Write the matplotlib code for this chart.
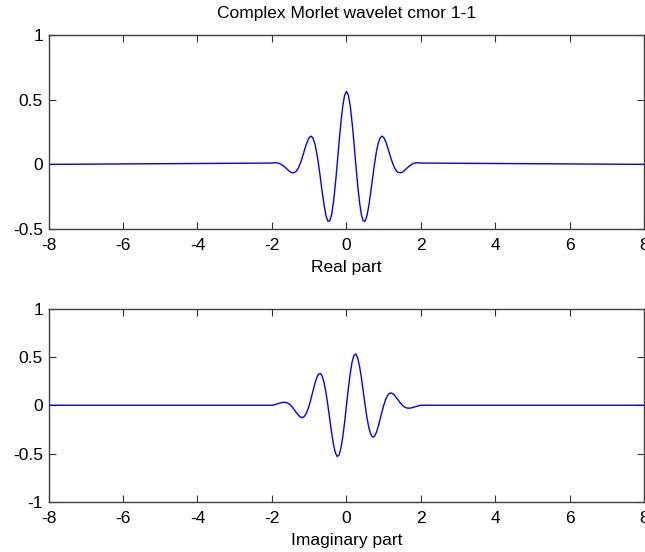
import matplotlib
matplotlib.use("Agg")
import matplotlib.pyplot as plt

# x positions (spacing 0.05 in the central part)
x_vals = [-8.0,
          -2.00, -1.95, -1.90, -1.85, -1.80, -1.75, -1.70, -1.65, -1.60, -1.55,
          -1.50, -1.45, -1.40, -1.35, -1.30, -1.25, -1.20, -1.15, -1.10, -1.05,
          -1.00, -0.95, -0.90, -0.85, -0.80, -0.75, -0.70, -0.65, -0.60, -0.55,
          -0.50, -0.45, -0.40, -0.35, -0.30, -0.25, -0.20, -0.15, -0.10, -0.05,
          0.00,
          0.05, 0.10, 0.15, 0.20, 0.25, 0.30, 0.35, 0.40, 0.45, 0.50,
          0.55, 0.60, 0.65, 0.70, 0.75, 0.80, 0.85, 0.90, 0.95, 1.00,
          1.05, 1.10, 1.15, 1.20, 1.25, 1.30, 1.35, 1.40, 1.45, 1.50,
          1.55, 1.60, 1.65, 1.70, 1.75, 1.80, 1.85, 1.90, 1.95, 2.00,
          8.0]

real_part = [0.0,
             0.010, 0.012, 0.012, 0.011, 0.007, 0.000, -0.010, -0.022, -0.035, -0.049,
             -0.060, -0.066, -0.064, -0.054, -0.032, 0.000, 0.041, 0.088, 0.136, 0.178,
             0.208, 0.218, 0.203, 0.161, 0.092, 0.000, -0.107, -0.217, -0.318, -0.397,
             -0.439, -0.438, -0.389, -0.293, -0.159, 0.000, 0.168, 0.324, 0.452, 0.535,
             0.564,
             0.535, 0.452, 0.324, 0.168, 0.000, -0.159, -0.293, -0.389, -0.438, -0.439,
             -0.397, -0.318, -0.217, -0.107, 0.000, 0.092, 0.161, 0.203, 0.218, 0.208,
             0.178, 0.136, 0.088, 0.041, 0.000, -0.032, -0.054, -0.064, -0.066, -0.060,
             -0.049, -0.035, -0.022, -0.010, 0.000, 0.007, 0.011, 0.012, 0.012, 0.010,
             0.0]

imag_part = [0.0,
             0.000, 0.004, 0.009, 0.015, 0.021, 0.026, 0.030, 0.030, 0.026, 0.016,
             0.000, -0.021, -0.047, -0.074, -0.099, -0.118, -0.127, -0.122, -0.099, -0.058,
             0.000, 0.071, 0.148, 0.222, 0.283, 0.322, 0.329, 0.299, 0.231, 0.129,
             0.000, -0.142, -0.283, -0.404, -0.490, -0.530, -0.516, -0.446, -0.328, -0.174,
             0.000,
             0.174, 0.328, 0.446, 0.516, 0.530, 0.490, 0.404, 0.283, 0.142, 0.000,
             -0.129, -0.231, -0.299, -0.329, -0.322, -0.283, -0.222, -0.148, -0.071, 0.000,
             0.058, 0.099, 0.122, 0.127, 0.118, 0.099, 0.074, 0.047, 0.021, 0.000,
             -0.016, -0.026, -0.030, -0.030, -0.026, -0.021, -0.015, -0.009, -0.004, 0.000,
             0.0]

x_ticks = [-8, -6, -4, -2, 0, 2, 4, 6, 8]
top_yticks = [-0.5, 0, 0.5, 1]
top_yticklabels = ["-0.5", "0", "0.5", "1"]
bot_yticks = [-1, -0.5, 0, 0.5, 1]
bot_yticklabels = ["-1", "-0.5", "0", "0.5", "1"]

title_text = "Complex Morlet wavelet cmor 1-1"
top_xlabel = "Real part"
bot_xlabel = "Imaginary part"

FS = 12.5
plt.rcParams['font.family'] = ['Liberation Sans', 'DejaVu Sans']
plt.rcParams['font.size'] = FS

fig = plt.figure(figsize=(6.45, 5.52), dpi=100)
fig.patch.set_facecolor('white')

ax1 = fig.add_axes([0.0752, 0.5851, 0.924, 0.3514])
ax2 = fig.add_axes([0.0752, 0.0906, 0.924, 0.3505])


def style(ax, yticks, yticklabels, ylim):
    ax.set_xlim(-8, 8)
    ax.set_ylim(*ylim)
    ax.set_xticks(x_ticks)
    ax.set_xticklabels([str(t) for t in x_ticks])
    ax.set_yticks(yticks)
    ax.set_yticklabels(yticklabels)
    ax.tick_params(direction='in', length=5, width=0.8, top=True, right=True,
                   labelsize=FS, colors='#333333', labelcolor='black')
    ax.tick_params(axis='x', pad=6.5)
    ax.tick_params(axis='y', pad=4)
    for s in ax.spines.values():
        s.set_color('#404040')
        s.set_linewidth(1.0)


ax1.plot(x_vals, real_part, color='#0000ff', linewidth=1.0)
style(ax1, top_yticks, top_yticklabels, (-0.5, 1))
ax1.set_title(title_text, fontsize=FS, pad=12)
ax1.set_xlabel(top_xlabel, fontsize=FS, labelpad=5)

ax2.plot(x_vals, imag_part, color='#0000ff', linewidth=1.0)
style(ax2, bot_yticks, bot_yticklabels, (-1, 1))
ax2.set_xlabel(bot_xlabel, fontsize=FS, labelpad=5)

fig.savefig("out.png", dpi=100, facecolor='white')
